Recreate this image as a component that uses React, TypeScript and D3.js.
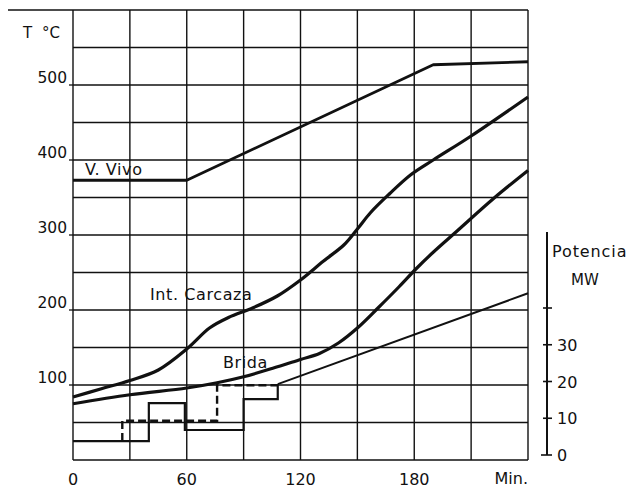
import React from "react";
import * as d3 from "d3";

// ---- data ----
const vVivo: [number, number][] = [[0, 373], [60, 373], [190, 527], [240, 531]];
const intCarcaza: [number, number][] = [
  [0, 84], [15, 95], [30, 106], [45, 120], [60, 148], [72, 176], [82, 190], [95, 203],
  [108, 219], [120, 240], [132, 265], [143, 287], [150, 308], [157, 330],
  [167, 355], [178, 380], [190, 400], [210, 432], [240, 484],
];
const brida: [number, number][] = [
  [0, 75], [30, 87], [60, 96], [76, 103], [90, 111], [105, 122], [120, 134], [130, 142],
  [140, 156], [150, 176], [161, 203], [172, 231], [181, 255], [190, 277], [202, 304],
  [222, 349], [240, 386],
];
// power (MW)
const powerSolid: [number, number][] = [[0, 3.8], [40, 14.1], [59, 6.8], [90, 15.2], [108, 19.3]];
const powerDashed: [number, number][] = [[26, 3.8], [26, 9.3], [76, 9.3], [76, 19], [108, 19]];
const powerRamp: [number, number][] = [[108, 19.3], [240, 44]];

const xTicks = [0, 60, 120, 180];
const xGrid = [0, 30, 60, 90, 120, 150, 180, 210, 240];
const yGrid = [0, 50, 100, 150, 200, 250, 300, 350, 400, 450, 500, 550, 600];
const yLabels = [100, 200, 300, 400, 500];
const pTicks = [0, 10, 20, 30, 40];
const pLabels = [0, 10, 20, 30];

const FONT = "'DejaVu Sans', sans-serif";

export default function App() {
  const x = d3.scaleLinear().domain([0, 240]).range([73, 528]);
  const y = d3.scaleLinear().domain([0, 600]).range([460, 10]);
  const p = d3.scaleLinear().domain([0, 40]).range([455, 308]);

  const tLine = d3.line<[number, number]>().x((d) => x(d[0])).y((d) => y(d[1]));
  const tSmooth = d3
    .line<[number, number]>()
    .x((d) => x(d[0]))
    .y((d) => y(d[1]))
    .curve(d3.curveCatmullRom.alpha(0.5));
  const pStep = d3
    .line<[number, number]>()
    .x((d) => x(d[0]))
    .y((d) => p(d[1]))
    .curve(d3.curveStepAfter);
  const pLine = d3.line<[number, number]>().x((d) => x(d[0])).y((d) => p(d[1]));

  const ink = "#111";
  const axisX = 547;

  return (
    <svg
      width={631}
      height={490}
      style={{ position: "absolute", left: 0, top: 0, background: "#fff" }}
      fontFamily={FONT}
    >
      <rect x={0} y={0} width={631} height={490} fill="#fff" />
      {/* grid */}
      {xGrid.map((t) => (
        <line key={"gx" + t} x1={x(t)} x2={x(t)} y1={y(600)} y2={y(0)} stroke={ink} strokeWidth={1.4} />
      ))}
      {yGrid.map((t) => (
        <line key={"gy" + t} x1={x(0)} x2={x(240)} y1={y(t)} y2={y(t)} stroke={ink} strokeWidth={1.3} />
      ))}
      {/* top line extension */}
      <line x1={8} x2={x(0)} y1={y(600)} y2={y(600)} stroke={ink} strokeWidth={1.3} />
      {/* left tick stubs */}
      {yLabels.map((t) => (
        <line key={"st" + t} x1={x(0) - 4} x2={x(0)} y1={y(t)} y2={y(t)} stroke={ink} strokeWidth={1.3} />
      ))}
      {/* left labels */}
      {yLabels.map((t) => (
        <text key={"yl" + t} x={67} y={y(t) - 2} textAnchor="end" fontSize={15.5} fill={ink}>
          {t}
        </text>
      ))}
      <text x={23} y={38} fontSize={15} fill={ink}>
        T
      </text>
      <text x={42} y={38} fontSize={15} fill={ink}>
        °C
      </text>
      {/* x labels */}
      {xTicks.map((t) => (
        <text key={"xl" + t} x={x(t)} y={485} textAnchor="middle" fontSize={16} fill={ink}>
          {t}
        </text>
      ))}
      <text x={528} y={484} textAnchor="end" fontSize={16} fill={ink}>
        Min.
      </text>

      {/* temperature curves */}
      <path d={tLine(vVivo) || ""} fill="none" stroke={ink} strokeWidth={2.8} strokeLinejoin="round" />
      <path d={tSmooth(intCarcaza) || ""} fill="none" stroke={ink} strokeWidth={3.2} strokeLinejoin="round" />
      <path d={tSmooth(brida) || ""} fill="none" stroke={ink} strokeWidth={3.2} strokeLinejoin="round" />

      {/* power */}
      <path d={pStep(powerSolid) || ""} fill="none" stroke={ink} strokeWidth={2.2} />
      <path d={pLine(powerDashed) || ""} fill="none" stroke={ink} strokeWidth={2.4} strokeDasharray="8,4" />
      <path d={pLine(powerRamp) || ""} fill="none" stroke={ink} strokeWidth={2} />

      {/* curve labels */}
      <text x={85} y={175} fontSize={16} letterSpacing={0.6} fill={ink}>
        V. Vivo
      </text>
      <text x={150} y={300} fontSize={16} letterSpacing={0.6} fill={ink}>
        Int. Carcaza
      </text>
      <text x={223} y={368} fontSize={16} letterSpacing={0.6} fill={ink}>
        Brida
      </text>

      {/* right power axis */}
      <line x1={axisX} x2={axisX} y1={232} y2={p(0)} stroke={ink} strokeWidth={2} />
      {pTicks.map((t) => (
        <line
          key={"pt" + t}
          x1={t === 0 ? axisX - 6 : axisX - 4}
          x2={axisX + 5}
          y1={p(t)}
          y2={p(t)}
          stroke={ink}
          strokeWidth={1.6}
        />
      ))}
      {pLabels.map((t) => (
        <text key={"pl" + t} x={557} y={p(t) + 6} fontSize={16} fill={ink}>
          {t}
        </text>
      ))}
      <text x={552} y={257} fontSize={16} letterSpacing={0.9} fill={ink}>
        Potencia
      </text>
      <text x={585} y={285} textAnchor="middle" fontSize={15} fill={ink}>
        MW
      </text>
    </svg>
  );
}
